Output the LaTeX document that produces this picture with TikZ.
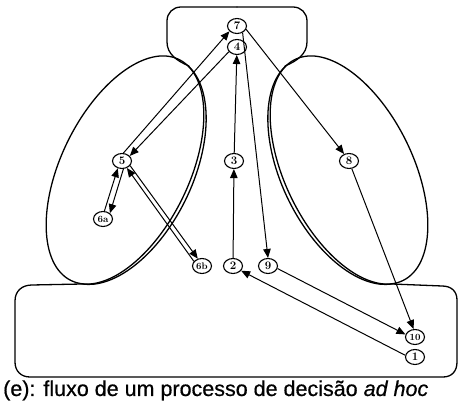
\documentclass[tikz,border=0pt]{standalone}
\usepackage{fontspec}
\newfontfamily\capfont[FakeBold=0.6]{Liberation Sans}
\usetikzlibrary{arrows.meta,shapes.geometric}
\newcommand\lobeside{%
  \draw[shapeline, shift={(125,170)}, rotate=64] (0,0) ellipse[x radius=123, y radius=64];
  \draw[shapeline, shift={(125,170)}, rotate=64] (10:123 and 67.5) arc[start angle=10, end angle=170, x radius=123, y radius=67.5];
  \draw[shapeline] (189,66) .. controls (177,61) and (167,54) .. (167,42) -- (167,21) .. controls (167,13) and (173,7) .. (181,7) -- (237,7);
}
\begin{document}
\begin{tikzpicture}[x=1pt,y=-1pt,
  shapeline/.style={line width=1.3pt, line join=round, line cap=round},
  num/.style={draw, line width=1.1pt, ellipse, minimum width=19pt, minimum height=15pt, inner sep=0pt, font=\fontsize{11.5}{11.5}\selectfont\bfseries},
  small/.style={font=\fontsize{9.5}{9.5}\selectfont\bfseries},
  flow/.style={line width=1pt, -{Triangle[length=9pt,width=7.5pt]}}]
\useasboundingbox (0,0) rectangle (459,409);
\lobeside
\begin{scope}[xshift=474pt, xscale=-1]
\lobeside
\end{scope}
\draw[shapeline] (82,284) -- (32,285) .. controls (22,285) and (15,291) .. (15,301) -- (15,362) .. controls (15,371) and (21,377) .. (30,377) -- (443,377) .. controls (452,377) and (457,371) .. (457,362) -- (457,300) .. controls (457,291) and (451,286) .. (442,286) -- (392,284);
% nodes
\node[num] (n7) at (237,26) {7};
\node[num] (n4) at (237,47) {4};
\node[num] (n3) at (234,161) {3};
\node[num] (n2) at (233,266) {2};
\node[num] (n9) at (268,266) {9};
\node[num,small] (n6b) at (202,266) {6b};
\node[num,small] (n6a) at (103,219) {6a};
\node[num] (n5) at (122,161) {5};
\node[num] (n8) at (349,161) {8};
\node[num,small] (n10) at (415,337) {10};
\node[num] (n1) at (415,357) {1};
% connectors
\draw[flow] (n2) -- (n3);
\draw[flow] (n3) -- (n4);
\draw[flow] (n4.210) -- (n5.33);
\draw[flow] (n5.80) -- (n7.215);
\draw[flow] (n6a.80) -- (n5.-120);
\draw[flow] (n5.-80) -- (n6a.40);
\draw[flow] (n6b.150) -- (n5.-55);
\draw[flow] (n5.-30) -- (n6b.120);
\draw[flow] (n7.-20) -- (n8.125);
\draw[flow] (n7.-50) -- (n9.north);
\draw[flow] (n8.-70) -- (n10.100);
\draw[flow] (n9.-15) -- (n10.165);
\draw[flow] (n1.170) -- (n2.-30);
% caption
\node[anchor=base west, inner sep=0pt, font=\capfont\fontsize{21.5}{21.5}\selectfont] (cap) at (3,396) {(e): fluxo de um processo de decisão \textit{ad hoc}};
\end{tikzpicture}
\end{document}
